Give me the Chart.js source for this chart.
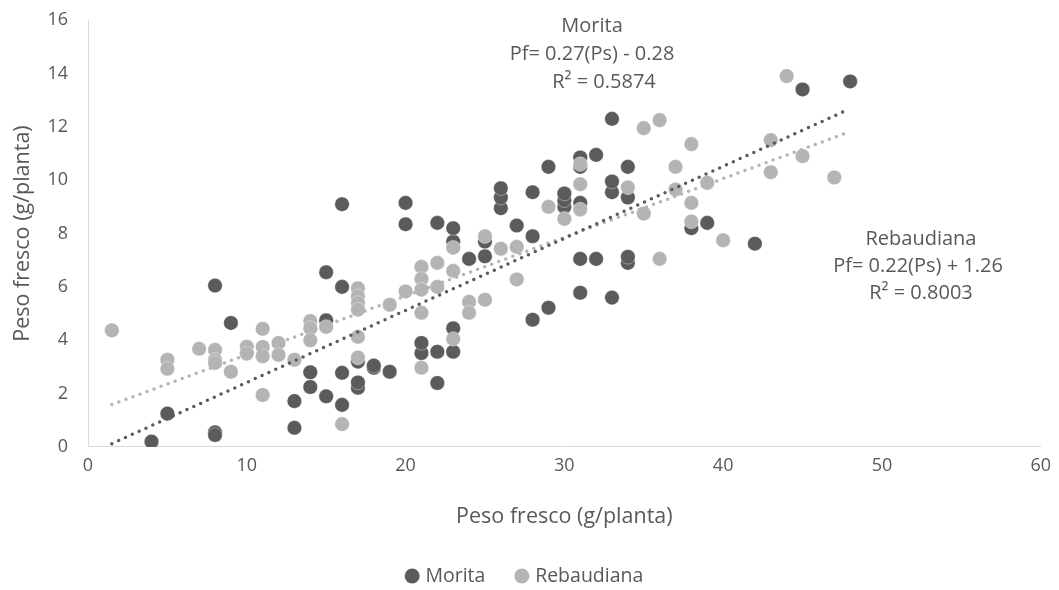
<!DOCTYPE html>
<html lang="es">
<head>
<meta charset="utf-8">
<title>Peso fresco</title>
<script src="https://cdn.jsdelivr.net/npm/chart.js@4/dist/chart.umd.min.js"></script>
<style>
  html, body { margin: 0; padding: 0; background: #ffffff; }
  #wrap { width: 1059px; height: 590px; }
</style>
</head>
<body>
<div id="wrap"><canvas id="chart" width="1059" height="590"></canvas></div>
<script>
// Peso seco (Ps) vs peso fresco (Pf) por planta, dos variedades de estevia
const moritaX = [4, 5, 8, 8, 8, 9, 13, 13, 14, 14, 15, 15, 15, 16, 16, 16, 16, 17, 17, 17, 18, 18, 19, 20, 20,
  21, 21, 22, 22, 22, 23, 23, 23, 23, 24, 25, 25, 26, 26, 26, 27, 28, 28, 28, 29, 29, 30, 30, 30,
  31, 31, 31, 31, 31, 32, 32, 33, 33, 33, 33, 34, 34, 34, 34, 38, 39, 42, 45, 48];
const moritaY = [0.2, 1.25, 0.55, 0.45, 6.05, 4.65, 0.72, 1.72, 2.25, 2.8, 1.9, 4.75, 6.55, 1.58, 2.78, 6.0, 9.1,
  2.22, 2.42, 3.2, 2.97, 3.05, 2.82, 8.35, 9.15,
  3.52, 3.9, 2.4, 3.57, 8.4, 3.57, 4.45, 7.7, 8.2, 7.05, 7.15, 7.7, 8.95, 9.35, 9.7, 8.3, 4.77, 7.9, 9.55,
  5.22, 10.5, 9.0, 9.25, 9.5,
  5.78, 7.05, 9.15, 10.5, 10.85, 7.05, 10.95, 5.6, 9.55, 9.95, 12.3, 6.9, 7.13, 9.35, 10.5, 8.2, 8.4, 7.62, 13.4, 13.7];

const rebaudianaX = [1.5, 5, 5, 7, 8, 8, 8, 9, 10, 10, 11, 11, 11, 11, 12, 12, 13, 14, 14, 14, 15, 16,
  17, 17, 17, 17, 17, 17, 19, 20, 21, 21, 21, 21, 21, 22, 22, 23, 23, 23, 24, 24, 25, 25, 26, 27, 27,
  29, 30, 31, 31, 31, 34, 35, 35, 36, 36, 37, 37, 38, 38, 38, 39, 40, 43, 43, 44, 45, 47];
const rebaudianaY = [4.37, 3.27, 2.93, 3.68, 3.64, 3.27, 3.15, 2.82, 3.76, 3.5, 4.43, 3.75, 3.4, 1.95, 3.9, 3.45,
  3.27, 4.72, 4.45, 4.0, 4.5, 0.86,
  5.95, 5.65, 5.4, 5.15, 4.13, 3.35, 5.33, 5.83, 6.75, 6.3, 5.9, 5.03, 2.97, 6.0, 6.9, 7.47, 6.6, 4.05,
  5.44, 5.03, 7.9, 5.52, 7.43, 7.5, 6.28,
  9.0, 8.55, 8.9, 9.85, 10.6, 9.73, 8.75, 11.95, 12.25, 7.05, 9.65, 10.5, 11.35, 9.15, 8.45, 9.9, 7.75,
  11.5, 10.3, 13.9, 10.9, 10.1];

// Ecuaciones de las líneas de tendencia: Pf = pendiente·Ps + intercepto
const seriesNames = ['Morita', 'Rebaudiana'];
const slopes = [0.27, 0.22];
const intercepts = [-0.28, 1.26];
const rSquared = ['0.5874', '0.8003'];
const trendRange = [1.5, 47.8];

const xTicks = [0, 10, 20, 30, 40, 50, 60];
const yTicks = [0, 2, 4, 6, 8, 10, 12, 14, 16];

const DARK = '#5b5b5b';
const LIGHT = '#b4b4b4';
const TEXT = '#595959';
const FONT = '"Open Sans", Lato, sans-serif';

function pairs(xs, ys) { return xs.map((x, i) => ({ x: x, y: ys[i] })); }
function trend(i) {
  return trendRange.map(x => ({ x: x, y: slopes[i] * x + intercepts[i] }));
}
function fmt(v) { return v.toFixed(2); }
function equation(i) {
  const b = intercepts[i];
  return 'Pf= ' + fmt(slopes[i]) + '(Ps) ' + (b < 0 ? '- ' : '+ ') + fmt(Math.abs(b));
}

// Texto con la ecuación y el R² de cada serie
const equationLabels = {
  id: 'equationLabels',
  afterDatasetsDraw(chart) {
    const ctx = chart.ctx;
    ctx.save();
    ctx.fillStyle = TEXT;
    ctx.font = '20px ' + FONT;
    ctx.textAlign = 'center';
    ctx.textBaseline = 'middle';
    const blocks = [
      { i: 0, lines: [[592, 26], [592, 54], [604, 82]] },
      { i: 1, lines: [[921, 239], [918, 266], [921, 293]] }
    ];
    blocks.forEach(b => {
      const texts = [seriesNames[b.i], equation(b.i), 'R² = ' + rSquared[b.i]];
      texts.forEach((t, k) => ctx.fillText(t, b.lines[k][0], b.lines[k][1]));
    });
    ctx.restore();
  }
};

new Chart(document.getElementById('chart'), {
  type: 'scatter',
  data: {
    datasets: [
      {
        label: seriesNames[0], data: pairs(moritaX, moritaY),
        backgroundColor: DARK, borderColor: 'rgba(255,255,255,0.6)', borderWidth: 0.6,
        pointRadius: 7.3, pointHoverRadius: 7.3, order: 2
      },
      {
        label: seriesNames[1], data: pairs(rebaudianaX, rebaudianaY),
        backgroundColor: LIGHT, borderColor: 'rgba(255,255,255,0.6)', borderWidth: 0.6,
        pointRadius: 7.3, pointHoverRadius: 7.3, order: 1
      },
      {
        label: seriesNames[0] + ' tendencia', type: 'line', data: trend(0),
        borderColor: DARK, borderWidth: 3.5, borderDash: [0, 7.5], borderCapStyle: 'round',
        pointRadius: 0, fill: false, order: 0
      },
      {
        label: seriesNames[1] + ' tendencia', type: 'line', data: trend(1),
        borderColor: LIGHT, borderWidth: 3.5, borderDash: [0, 7.5], borderCapStyle: 'round',
        pointRadius: 0, fill: false, order: 0
      }
    ]
  },
  options: {
    responsive: false,
    animation: false,
    devicePixelRatio: 1,
    layout: { autoPadding: false, padding: { left: 9, right: 16, top: 20, bottom: -5.75 } },
    plugins: {
      tooltip: { enabled: false },
      legend: {
        position: 'bottom',
        labels: {
          usePointStyle: true,
          pointStyle: 'circle',
          boxWidth: 7, boxHeight: 10.6,
          padding: 33,
          color: TEXT,
          font: { family: FONT, size: 19.5 },
          filter: item => seriesNames.includes(item.text),
          sort: (a, b) => a.datasetIndex - b.datasetIndex,
          generateLabels(chart) {
            const items = Chart.defaults.plugins.legend.labels.generateLabels(chart);
            items.forEach(it => { it.strokeStyle = it.fillStyle; it.lineWidth = 0; });
            return items;
          }
        }
      }
    },
    scales: {
      x: {
        type: 'linear', min: 0, max: 60,
        afterBuildTicks: s => { s.ticks = xTicks.map(v => ({ value: v })); },
        afterFit: s => { s.height = 86.25; },
        grid: { display: false, drawTicks: false },
        border: { display: true, color: '#d9d9d9', width: 1 },
        ticks: { color: TEXT, font: { family: FONT, size: 18 }, padding: 8 },
        title: {
          display: true, text: 'Peso fresco (g/planta)', color: TEXT,
          font: { family: FONT, size: 21.5 }, padding: { top: 0, bottom: 3.4 }
        }
      },
      y: {
        type: 'linear', min: 0, max: 16,
        afterBuildTicks: s => { s.ticks = yTicks.map(v => ({ value: v })); },
        afterFit: s => { s.width = 79; },
        grid: { display: false, drawTicks: false },
        border: { display: true, color: '#d9d9d9', width: 1 },
        // a tiny line height keeps the tick labels from padding the top of the plot
        ticks: { color: TEXT, font: { family: FONT, size: 18, lineHeight: 0.01 }, padding: 20 },
        title: {
          display: true, text: 'Peso fresco (g/planta)', color: TEXT,
          font: { family: FONT, size: 21.5 }, padding: { top: 1, bottom: 0 }
        }
      }
    }
  },
  plugins: [equationLabels]
});
</script>
</body>
</html>
